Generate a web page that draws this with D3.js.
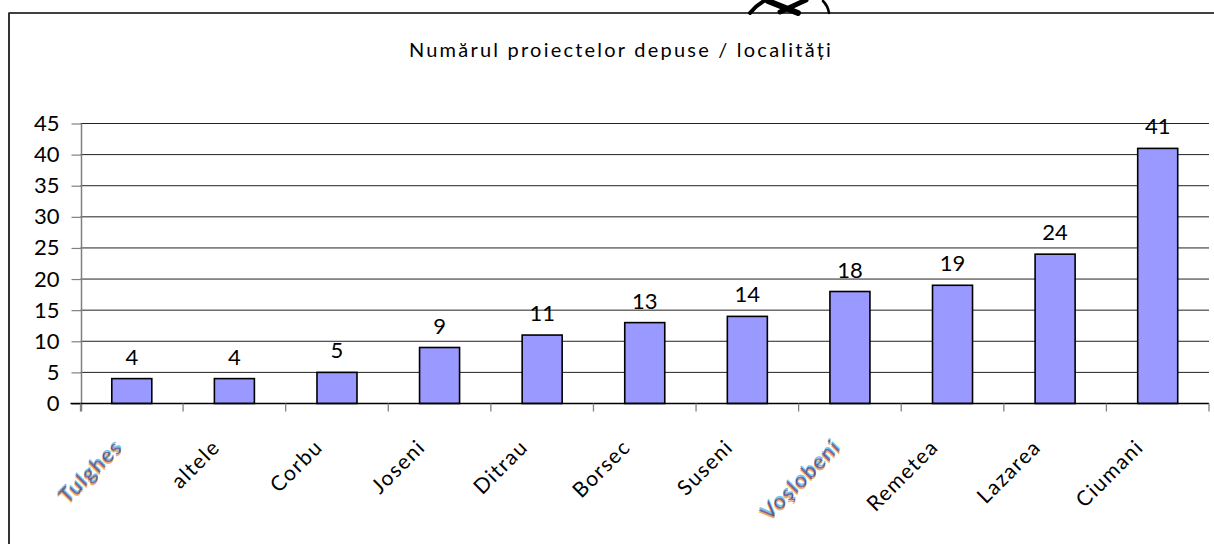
<!DOCTYPE html>
<html>
<head>
<meta charset="utf-8">
<script src="https://cdn.jsdelivr.net/npm/d3@7"></script>
<style>
  html, body { margin: 0; padding: 0; background: #fff; }
  svg { display: block; font-family: Lato, "Open Sans", sans-serif; }
</style>
</head>
<body>
<svg id="chart" width="1214" height="544"></svg>
<script>
// Projects submitted per locality
const localities = ["Tulghes", "altele", "Corbu", "Joseni", "Ditrau", "Borsec", "Suseni", "Voşlobeni", "Remetea", "Lazarea", "Ciumani"];
const projects = [4, 4, 5, 9, 11, 13, 14, 18, 19, 24, 41];
const yTicks = [0, 5, 10, 15, 20, 25, 30, 35, 40, 45];
const blurredLabels = ["Tulghes", "Voşlobeni"];
const chartTitle = "Numărul proiectelor depuse / localități";

const svg = d3.select("#chart");

// frame: top and left edges
svg.append("line").attr("x1", 9).attr("x2", 1214).attr("y1", 13).attr("y2", 13)
  .attr("stroke", "#000").attr("stroke-width", 1.5);
svg.append("line").attr("x1", 9).attr("x2", 9).attr("y1", 12.5).attr("y2", 544)
  .attr("stroke", "#333").attr("stroke-width", 2);

// stamp fragment above the frame
const stamp = svg.append("g").attr("fill", "none").attr("stroke", "#000").attr("stroke-linecap", "round");
stamp.append("path").attr("d", "M750,13 Q757,4 768,-1").attr("stroke-width", 4);
stamp.append("path").attr("d", "M768,1 L798,13").attr("stroke-width", 6);
stamp.append("path").attr("d", "M780,12 L806,0").attr("stroke-width", 5);
stamp.append("path").attr("d", "M823,1 Q828,6 829,13").attr("stroke-width", 2.5);

// title, stretched to its set width
const title = svg.append("text")
  .attr("x", 621).attr("y", 57)
  .attr("text-anchor", "middle")
  .attr("font-size", 20)
  .attr("fill", "#000")
  .text(chartTitle);
const natural = title.node().getComputedTextLength();
title.attr("letter-spacing", Math.max(0, (422 - natural) / (chartTitle.length - 1)).toFixed(2));

const plot = { left: 80.5, right: 1209, top: 123.5, bottom: 403.5 };

const x = d3.scaleBand()
  .domain(localities)
  .range([plot.left, plot.right])
  .paddingInner(0.61)
  .paddingOuter(0.305);

const y = d3.scaleLinear()
  .domain([0, 45])
  .range([plot.bottom, plot.top]);

// gridlines
svg.append("g").selectAll("line")
  .data(yTicks.filter(t => t > 0))
  .join("line")
  .attr("x1", plot.left).attr("x2", plot.right)
  .attr("y1", d => y(d)).attr("y2", d => y(d))
  .attr("stroke", "#222").attr("stroke-width", 1);

// y axis
const yAxis = svg.append("g")
  .attr("transform", `translate(${plot.left + 1},0)`)
  .call(d3.axisLeft(y).tickValues(yTicks).tickSize(10).tickPadding(12));
yAxis.select(".domain").attr("stroke", "#808080").attr("stroke-width", 1.5)
  .attr("d", `M0,${plot.top}V${plot.bottom + 8}`);
yAxis.selectAll(".tick line").attr("stroke", "#808080").attr("stroke-width", 1.2);
yAxis.selectAll(".tick text")
  .attr("font-size", 22).attr("font-family", "Lato, sans-serif").attr("fill", "#000");

// bars
svg.append("g").selectAll("rect")
  .data(localities)
  .join("rect")
  .attr("x", d => x(d))
  .attr("y", (d, i) => y(projects[i]))
  .attr("width", x.bandwidth())
  .attr("height", (d, i) => y(0) - y(projects[i]))
  .attr("fill", "#9999ff")
  .attr("stroke", "#000")
  .attr("stroke-width", 1.6);

// x axis baseline and category separators
svg.append("line")
  .attr("x1", plot.left - 10).attr("x2", plot.right)
  .attr("y1", y(0)).attr("y2", y(0))
  .attr("stroke", "#000").attr("stroke-width", 1.3);
const step = x.step();
const sepPositions = localities.map(d => x(d) - (step - x.bandwidth()) / 2).concat([plot.right]);
svg.append("g").selectAll("line")
  .data(sepPositions)
  .join("line")
  .attr("x1", d => d).attr("x2", d => d)
  .attr("y1", y(0)).attr("y2", y(0) + 8)
  .attr("stroke", "#808080").attr("stroke-width", 1.3);

// value labels
svg.append("g").selectAll("text")
  .data(localities)
  .join("text")
  .attr("x", d => x(d) + x.bandwidth() / 2)
  .attr("y", (d, i) => y(projects[i]) - 14)
  .attr("text-anchor", "middle")
  .attr("font-size", 22)
  .attr("fill", "#000")
  .text((d, i) => projects[i]);

// category labels, rotated
const labels = svg.append("g").selectAll("g")
  .data(localities)
  .join("g")
  .attr("transform", d => {
    const shift = blurredLabels.includes(d) ? -8 : -13;
    return `translate(${x(d) + x.bandwidth() / 2 + shift},${y(0) + 45}) rotate(-45)`;
  });

labels.each(function(d) {
  const g = d3.select(this);
  const base = { size: 21, spacing: 1.4 };
  if (blurredLabels.includes(d)) {
    const layers = [
      { dx: -1.3, dy: 1.3, fill: "#f0a048", op: 0.85 },
      { dx: 1.3, dy: -1.3, fill: "#58b8f0", op: 0.85 },
      { dx: 0, dy: 0, fill: "#402a70", op: 0.7 }
    ];
    layers.forEach(l => {
      g.append("text")
        .attr("x", l.dx).attr("y", l.dy)
        .attr("text-anchor", "end")
        .attr("font-size", base.size)
        .attr("letter-spacing", base.spacing)
        .attr("fill", l.fill)
        .attr("fill-opacity", l.op)
        .text(d);
    });
  } else {
    g.append("text")
      .attr("text-anchor", "end")
      .attr("font-size", base.size)
      .attr("letter-spacing", base.spacing)
      .attr("fill", "#000")
      .text(d);
  }
});
</script>
</body>
</html>
